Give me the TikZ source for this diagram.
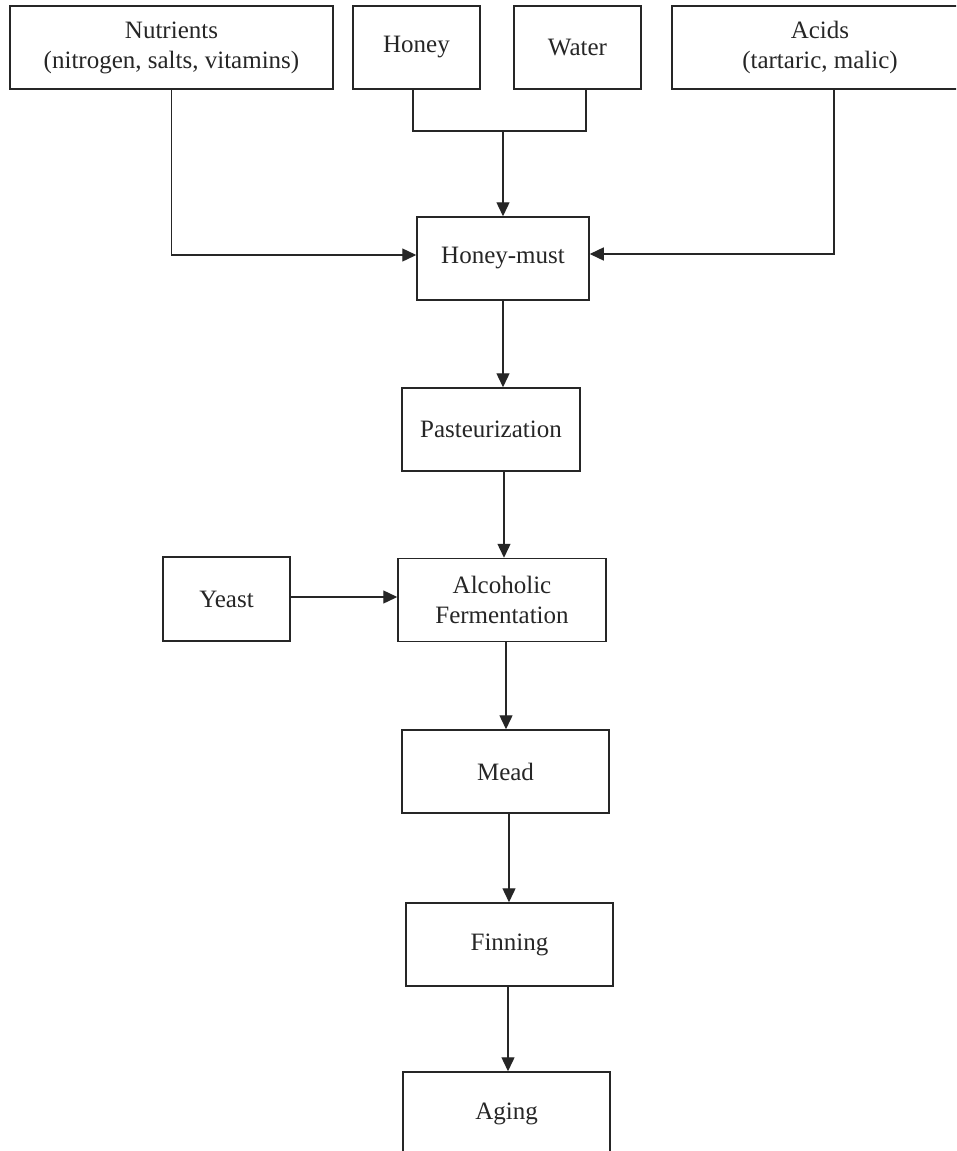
\documentclass[tikz,border=0pt]{standalone}
\usepackage{fontspec}
\setmainfont{Liberation Serif}
\usetikzlibrary{arrows.meta}
\definecolor{ink}{HTML}{262626}
\begin{document}
\begin{tikzpicture}[x=1pt,y=-1pt,
  box/.style={draw=ink, line width=1.5pt, text=ink, inner sep=0pt, align=center, font=\fontsize{25}{30}\selectfont},
  arr/.style={draw=ink, line width=1.4pt, -{Triangle[length=14pt,width=13pt]}},
  ln/.style={draw=ink, line width=1.4pt}]
\useasboundingbox (0,0) rectangle (956,1151);
\clip (0,0) rectangle (956,1151);
\fill[white] (0,0) rectangle (956,1151);
\node[box, minimum width=323pt, minimum height=83pt] (nut) at (171.5,47.5) {Nutrients\\(nitrogen, salts, vitamins)};
\node[box, minimum width=127pt, minimum height=83pt] (honey) at (416.5,47.5) {Honey};
\node[box, minimum width=127pt, minimum height=83pt] (water) at (577.5,47.5) {Water};
\node[box, minimum width=296pt, minimum height=83pt] (acids) at (820,47.5) {Acids\\(tartaric, malic)};
\node[box, minimum width=172pt, minimum height=83pt] (hm) at (503,258.5) {Honey-must};
\node[box, minimum width=178pt, minimum height=83pt] (past) at (491,429.5) {Pasteurization};
\node[box, minimum width=208pt, minimum height=83pt] (ferm) at (502,600) {Alcoholic\\Fermentation};
\node[box, minimum width=127pt, minimum height=84pt] (yeast) at (226.5,599) {Yeast};
\node[box, minimum width=207pt, minimum height=83pt] (mead) at (505.5,771.5) {Mead};
\node[box, minimum width=207pt, minimum height=83pt] (fin) at (509.5,944.5) {Finning};
\node[box, minimum width=207pt, minimum height=83pt] (aging) at (506.5,1113.5) {Aging};
\coordinate (j) at (503,131);
\draw[arr] (nut.south) |- ([yshift=3.5pt]hm.west);
\draw[arr] ([xshift=14pt]acids.south) |- ([yshift=4.5pt]hm.east);
\draw[ln] ([xshift=-3.5pt]honey.south) |- (j);
\draw[ln] ([xshift=8.5pt]water.south) |- (j);
\draw[arr] (j) -- (hm.north);
\draw[arr] (hm.south) -- (hm.south |- past.north);
\draw[arr] ([xshift=13pt]past.south) -- ([xshift=13pt]past.south |- ferm.north);
\draw[arr] ([yshift=2pt]yeast.east) -- ([yshift=2pt]yeast.east -| ferm.west);
\draw[arr] ([xshift=4pt]ferm.south) -- ([xshift=4pt]ferm.south |- mead.north);
\draw[arr] ([xshift=3.5pt]mead.south) -- ([xshift=3.5pt]mead.south |- fin.north);
\draw[arr] ([xshift=-1.5pt]fin.south) -- ([xshift=-1.5pt]fin.south |- aging.north);
\end{tikzpicture}
\end{document}
